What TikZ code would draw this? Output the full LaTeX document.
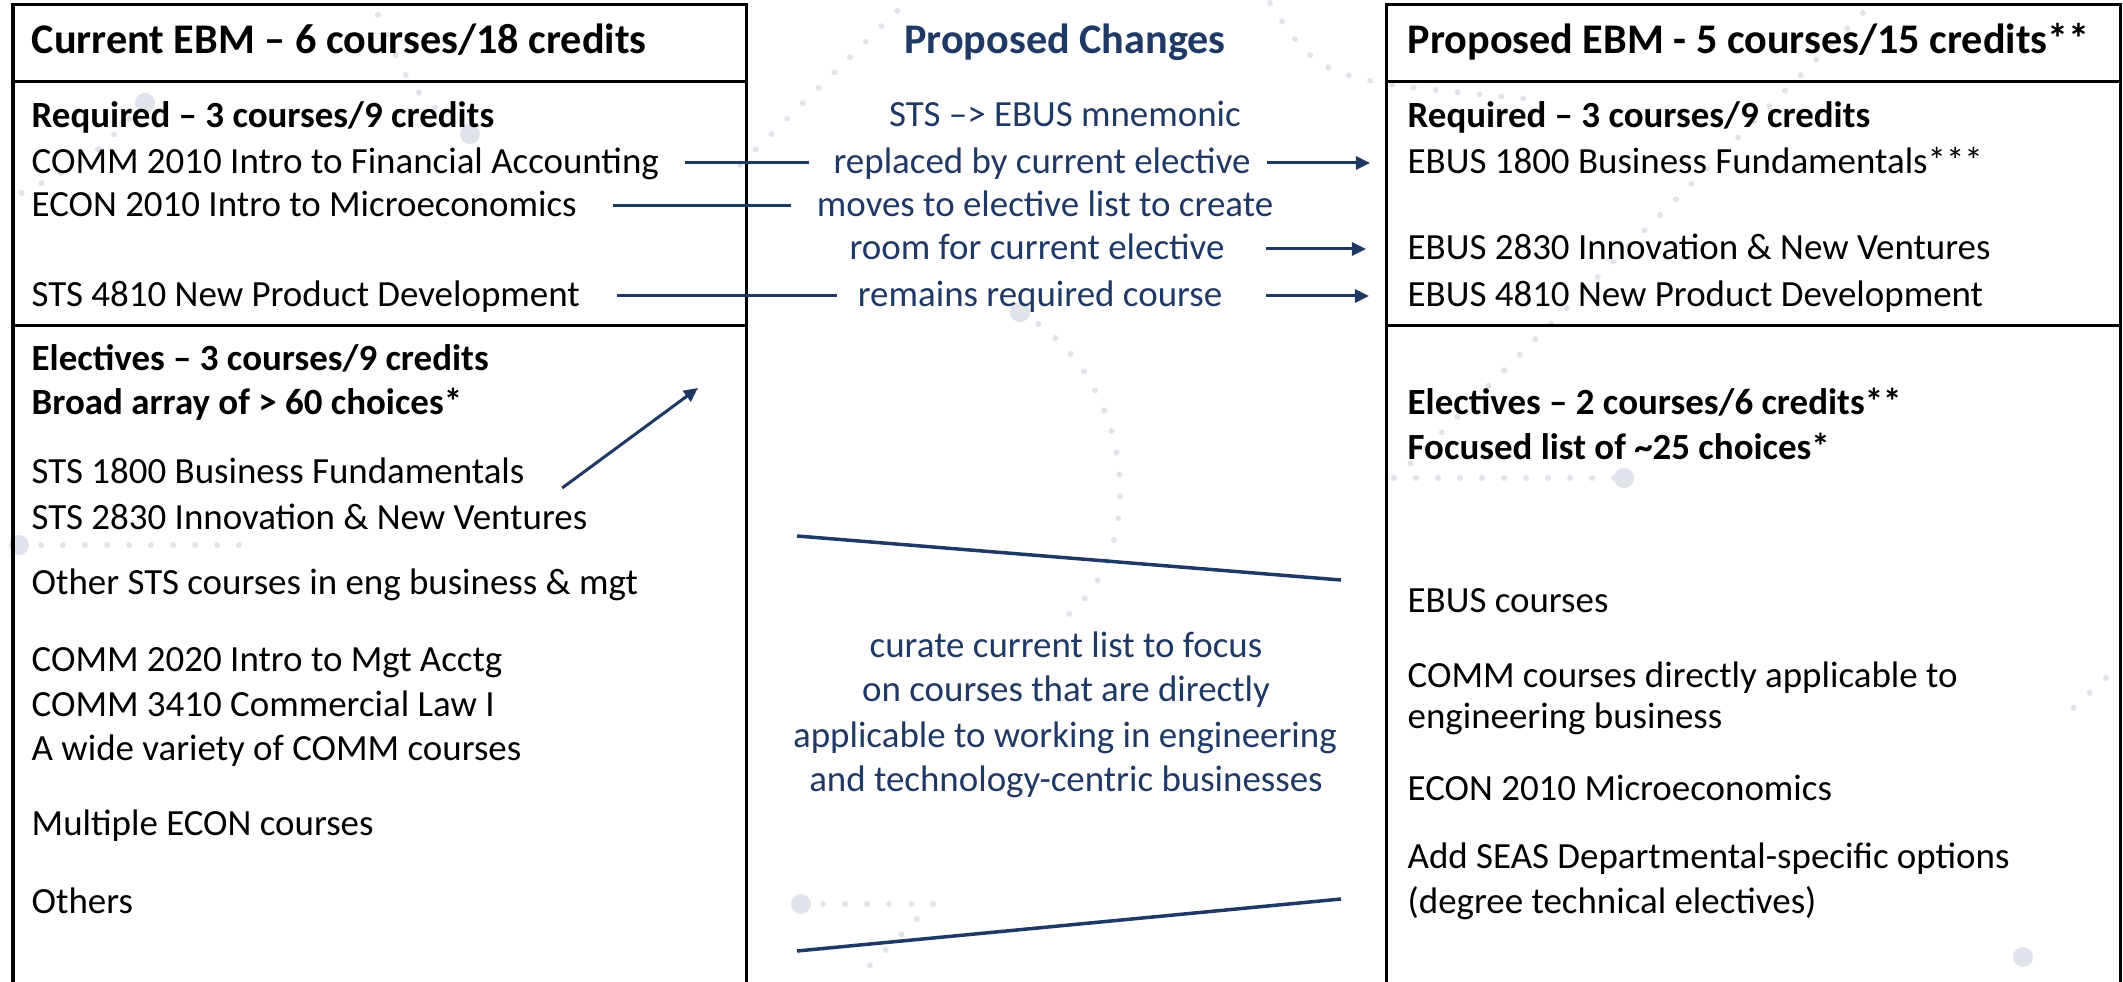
\documentclass[tikz,border=0pt]{standalone}
\usepackage{fontspec}
\setmainfont{Carlito}
\usetikzlibrary{arrows.meta}
\definecolor{navy}{RGB}{32,56,100}
\definecolor{dotgray}{RGB}{224,228,234}

\begin{document}
\begin{tikzpicture}[x=0.01cm, y=-0.01cm, >={Triangle[length=0.14cm, width=0.13cm]},
        txt/.style={anchor=west, inner sep=0pt, text height=0.8em, text depth=0.2em, font=\fontsize{10.5}{12.6}\selectfont},
        bold/.style={txt, font=\fontsize{10.5}{12.6}\selectfont\bfseries},
        head/.style={txt, font=\fontsize{12}{14.4}\selectfont\bfseries},
        note/.style={txt, anchor=center, text=navy},
        link/.style={draw=navy, line width=0.03cm}]
            \useasboundingbox (0,0) rectangle (2123,982);
            % faint dotted background
            \begin{scope}[dotgray, line width=0.06cm, line cap=round, dash pattern=on 0pt off 0.22cm]
                \draw (740,165) -- (899,9);
                \draw (1020,312) .. controls (1140,380) and (1150,560) .. (1061,620);
                \draw (19,545) -- (245,545);
                \draw (801,904) -- (934,904);
                \draw (917,919) -- (860,975);
                \draw (1863,13) -- (1400,474);
                \draw (1394,478) -- (1624,478);
                \draw (1270,3) .. controls (1320,80) .. (1540,100);
                \draw (378,15) .. controls (410,90) .. (470,134);
                \draw (145,103) .. controls (90,160) .. (5,201);
                \draw (2106,678) -- (2060,720);
            \end{scope}
            \begin{scope}[dotgray]
                \fill (1020,312) circle (0.1cm);
                \fill (19,545) circle (0.1cm);
                \fill (801,904) circle (0.1cm);
                \fill (1624,478) circle (0.1cm);
                \fill (470,134) circle (0.1cm);
                \fill (145,103) circle (0.1cm);
                \fill (2023,957) circle (0.1cm);
            \end{scope}
            % the two tables
            \draw[line width=0.03cm] (13,982) -- (13,5) -- (746,5) -- (746,982);
            \draw[line width=0.03cm] (13,82) -- (746,82) (13,326) -- (746,326);
            \draw[line width=0.03cm] (1386,982) -- (1386,5) -- (2120,5) -- (2120,982);
            \draw[line width=0.03cm] (1386,82) -- (2120,82) (1386,326) -- (2120,326);
            % current program
            \node[head] (cur) at (31,43) {Current EBM – 6 courses/18 credits};
            \node[bold] (lreq) at (31,117) {Required – 3 courses/9 credits};
            \node[txt] (comm) at (31,163) {COMM 2010 Intro to Financial Accounting};
            \node[txt] (econ) at (31,206) {ECON 2010 Intro to Microeconomics};
            \node[txt] (sts48) at (31,296) {STS 4810 New Product Development};
            \node[bold] (lele) at (31,360) {Electives – 3 courses/9 credits};
            \node[bold] (broad) at (31,404) {Broad array of > 60 choices*};
            \node[txt] (sts18) at (31,473) {STS 1800 Business Fundamentals};
            \node[txt] (sts28) at (31,519) {STS 2830 Innovation \& New Ventures};
            \node[txt] (othsts) at (31,584) {Other STS courses in eng business \& mgt};
            \node[txt] (comm20) at (31,661) {COMM 2020 Intro to Mgt Acctg};
            \node[txt] (comm34) at (31,706) {COMM 3410 Commercial Law I};
            \node[txt] (wide) at (31,750) {A wide variety of COMM courses};
            \node[txt] (mecon) at (31,825) {Multiple ECON courses};
            \node[txt] (others) at (31,903) {Others};
            % proposed changes
            \node[note, font=\fontsize{12}{14.4}\selectfont\bfseries] (pc) at (1065,43) {Proposed Changes};
            \node[note] (mnem) at (1065,116) {STS –> EBUS mnemonic};
            \node[note] (repl) at (1042,163) {replaced by current elective};
            \node[note] (moves) at (1045,206) {moves to elective list to create};
            \node[note] (room) at (1037,249) {room for current elective};
            \node[note] (remains) at (1040,296) {remains required course};
            \node[note] (cura) at (1066,647) {curate current list to focus};
            \node[note] (curb) at (1066,691) {on courses that are directly};
            \node[note] (curc) at (1065,737) {applicable to working in engineering};
            \node[note] (curd) at (1066,781) {and technology-centric businesses};
            % proposed program
            \node[head] (prop) at (1407,43) {Proposed EBM - 5 courses/15 credits**};
            \node[bold] (rreq) at (1407,117) {Required – 3 courses/9 credits};
            \node[txt] (ebus18) at (1407,163) {EBUS 1800 Business Fundamentals***};
            \node[txt] (ebus28) at (1407,249) {EBUS 2830 Innovation \& New Ventures};
            \node[txt] (ebus48) at (1407,296) {EBUS 4810 New Product Development};
            \node[bold] (rele) at (1407,404) {Electives – 2 courses/6 credits**};
            \node[bold] (focus) at (1407,449) {Focused list of \textasciitilde25 choices*};
            \node[txt] (ebusc) at (1407,602) {EBUS courses};
            \node[txt] (commd) at (1407,677) {COMM courses directly applicable to};
            \node[txt] (engb) at (1407,718) {engineering business};
            \node[txt] (econm) at (1407,790) {ECON 2010 Microeconomics};
            \node[txt] (seas) at (1407,858) {Add SEAS Departmental-specific options};
            \node[txt] (degree) at (1407,903) {(degree technical electives)};
            \coordinate (up) at (698,388);
            \coordinate (fa) at (797,536);
            \coordinate (fb) at (1341,580);
            \coordinate (fc) at (797,951);
            \coordinate (fd) at (1341,899);
            \draw (comm) edge [link, shorten <=0.25cm, shorten >=0.24cm] (repl);
            \draw (repl) edge [link, ->, shorten <=0.16cm, shorten >=0.37cm] (ebus18);
            \draw (econ) edge [link, shorten <=0.36cm, shorten >=0.25cm] (moves);
            \draw (room) edge [link, ->, shorten <=0.41cm, shorten >=0.41cm] (ebus28);
            \draw (sts48) edge [link, shorten <=0.37cm, shorten >=0.2cm] (remains);
            \draw (remains) edge [link, ->, shorten <=0.43cm, shorten >=0.38cm] (ebus48);
            \draw ([shift={(37,15)}]sts18.east) edge [link, ->] (up);
            \draw (fa) edge [link, line width=0.035cm] (fb);
            \draw (fc) edge [link, line width=0.035cm] (fd);
        \end{tikzpicture}
\end{document}
